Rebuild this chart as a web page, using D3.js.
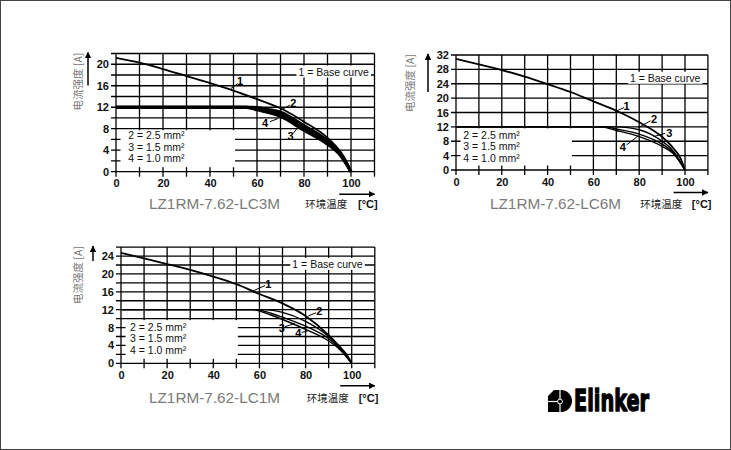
<!DOCTYPE html>
<html>
<head>
<meta charset="utf-8">
<script src="https://cdn.jsdelivr.net/npm/d3@7"></script>
<style>
  body { margin: 0; background: #fff; }
</style>
</head>
<body>
<svg id="chart" width="731" height="450"></svg>
<script>
// 공통 눈금/범례
var tempTicks = [0, 20, 40, 60, 80, 100];
var legendLines = ["2 = 2.5 mm²", "3 = 1.5 mm²", "4 = 1.0 mm²"];
var baseText = "1 = Base curve";

// LC3M (좌상단)
var lc3mTicks = [0, 4, 8, 12, 16, 20];
var lc3mBase = [[0,21.2],[10,20.3],[20,19.1],[30,17.8],[40,16.5],[50,15.1],[60,13.5],[70,11.8],[80,9.3],[90,6.3],[95,4.0],[98,2.0],[100,0]];
var lc3mC2 = [[0,12],[58,12],[65,11.6],[70,11.1],[80,8.6],[90,5.8],[95,3.8],[100,0]];
var lc3mC3 = [[0,12],[56,12],[62,11.4],[70,10.6],[80,8.1],[90,5.4],[95,3.5],[100,0]];
var lc3mC4 = [[0,12],[55,12],[60,11.5],[70,10.3],[80,7.7],[90,5.1],[95,3.3],[100,0]];
// 곡선 번호: [글자, x, y, 선 시작 x, y, 선 끝 x, y]
var lc3mLabels = [["1",52.8,16.9,48.9,15.5,51.8,16.4],["2",75.4,12.8,69.1,11.2,74.0,12.4],
                  ["4",63.4,9.0,65.5,9.3,69.0,9.9],["3",74.3,6.6,75.4,7.1,77.1,8.1]];

// LC6M (우상단)
var lc6mTicks = [0, 4, 8, 12, 16, 20, 24, 28, 32];
var lc6mBase = [[0,30.9],[10,29.4],[20,27.8],[30,26.0],[40,23.9],[50,21.7],[60,19.1],[70,16.5],[80,13.3],[90,9.2],[95,6.0],[98,3.3],[100,0]];
var lc6mC2 = [[0,12],[70,12],[75,11.8],[80,11.2],[85,10.0],[90,8.0],[95,5.2],[100,0]];
var lc6mC3 = [[0,12],[65,12],[70,11.4],[80,10.0],[90,7.2],[95,4.8],[100,0]];
var lc6mC4 = [[0,12],[63,12],[70,11.0],[80,9.3],[90,6.6],[95,4.5],[100,0]];
var lc6mLabels = [["1",74.5,17.9,69.4,16.2,73.4,17.4],["2",86.5,14.2,79.6,11.8,85.0,13.7],
                  ["3",93.1,10.4,86.2,9.3,91.3,10.2],["4",72.8,6.3,74.5,7.0,79.6,9.5]];

// LC1M (좌하단)
var lc1mTicks = [0, 4, 8, 12, 16, 20, 24];
var lc1mBase = [[0,24.7],[10,23.5],[20,22.2],[30,20.9],[40,19.4],[50,17.7],[60,15.5],[70,13.4],[80,10.6],[90,6.3],[95,3.6],[98,1.8],[100,0]];
var lc1mC2 = [[0,12],[62,12],[70,11.4],[80,9.4],[90,6.0],[95,3.4],[100,0]];
var lc1mC3 = [[0,12],[58,12],[65,11.2],[70,10.3],[80,8.3],[90,5.5],[95,3.2],[100,0]];
var lc1mC4 = [[0,12],[57,12],[65,10.8],[70,9.8],[80,7.6],[90,5.0],[95,3.0],[100,0]];
var lc1mLabels = [["1",63.8,17.7,57.3,16.2,62.4,17.4],["2",86.0,11.7,81.2,10.6,84.5,11.3],
                  ["3",69.7,7.8,71.1,8.2,75.4,8.9],["4",76.9,6.7,78.3,6.9,81.2,7.3]];

var charts = [
  { title: "LZ1RM-7.62-LC3M", ticks: lc3mTicks, yMax: 22, yStep: 2,
    curves: [lc3mC4, lc3mC3, lc3mC2], base: lc3mBase, labels: lc3mLabels,
    left: 116, right: 374.5, bottom: 171.7, top: 53.5, boxTop: 8,
    basePos: [92.6, 18.6], legendPos: [5.2, [6.8, 4.6, 2.6]],
    band: 3, titleDx: 33, titleDy: 37.5, yLabelDx: -38, arrowLen: 32 },
  { title: "LZ1RM-7.62-LC6M", ticks: lc6mTicks, yMax: 32, yStep: 4,
    curves: [lc6mC4, lc6mC3, lc6mC2], base: lc6mBase, labels: lc6mLabels,
    left: 456, right: 707.9, bottom: 170, top: 55, boxTop: 12,
    basePos: [91.3, 25.6], legendPos: [3.2, [9.7, 6.5, 3.3]],
    band: 1.4, titleDx: 34, titleDy: 39, yLabelDx: -46, arrowLen: 37 },
  { title: "LZ1RM-7.62-LC1M", ticks: lc1mTicks, yMax: 26, yStep: 2,
    curves: [lc1mC4, lc1mC3, lc1mC2], base: lc1mBase, labels: lc1mLabels,
    left: 121, right: 374.8, bottom: 363.3, top: 247.1, boxTop: 10,
    basePos: [89.5, 22.2], legendPos: [3.9, [8.0, 5.5, 3.0]],
    band: 1.4, titleDx: 28, titleDy: 40, yLabelDx: -43, arrowLen: 14 }
];

var svg = d3.select("#chart");
svg.append("rect").attr("x", 0.5).attr("y", 0.5).attr("width", 730).attr("height", 449)
  .attr("fill", "#fff").attr("stroke", "#444").attr("stroke-width", 1);

var defs = svg.append("defs");
defs.append("marker").attr("id", "head").attr("viewBox", "0 0 10 10")
  .attr("refX", 9).attr("refY", 5).attr("markerWidth", 4.4).attr("markerHeight", 4.4)
  .attr("orient", "auto-start-reverse")
  .append("path").attr("d", "M0,0 L10,5 L0,10 Z").attr("fill", "#000");

var sans = "'Liberation Sans', Arial, sans-serif";
var cjk = "'Noto Sans CJK SC', sans-serif";

charts.forEach(function(c) {
  var x = d3.scaleLinear().domain([0, 110]).range([c.left, c.right]);
  var y = d3.scaleLinear().domain([0, c.yMax]).range([c.bottom, c.top]);
  var g = svg.append("g");

  //격자
  var grid = g.append("g").attr("stroke", "#000").attr("stroke-width", 1.3);
  d3.range(0, c.yMax + 0.01, c.yStep).forEach(function(v) {
    grid.append("line").attr("x1", x(0) - 5).attr("x2", x(110))
      .attr("y1", y(v)).attr("y2", y(v));
  });
  d3.range(0, 110.01, 10).forEach(function(t) {
    grid.append("line").attr("x1", x(t)).attr("x2", x(t))
      .attr("y1", y(c.yMax)).attr("y2", y(0) + 5);
  });

  //범례 박스
  g.append("rect").attr("x", x(0) + 4.5).attr("y", y(c.boxTop) + 1.5)
    .attr("width", x(50) + 1.5 - (x(0) + 4.5))
    .attr("height", (y(0) - 4.5) - (y(c.boxTop) + 1.5))
    .attr("fill", "#fff");
  legendLines.forEach(function(s, i) {
    g.append("text").text(s).attr("x", x(c.legendPos[0])).attr("y", y(c.legendPos[1][i]))
      .attr("dy", "0.36em").attr("font-family", sans).attr("font-size", "10.5px").attr("fill", "#111");
  });

  //Base curve 표시
  var bt = g.append("text").text(baseText).attr("x", x(c.basePos[0])).attr("y", y(c.basePos[1]))
    .attr("dy", "0.36em").attr("text-anchor", "middle")
    .attr("font-family", sans).attr("font-size", "10.5px").attr("fill", "#111");
  var bb = bt.node().getBBox();
  g.insert("rect", "text").attr("x", bb.x - 2).attr("y", bb.y).attr("width", bb.width + 4)
    .attr("height", bb.height).attr("fill", "#fff");

  //곡선
  var line = d3.line().x(function(d) { return x(d[0]); }).y(function(d) { return y(d[1]); })
    .curve(d3.curveMonotoneX);
  c.curves.forEach(function(s) {
    g.append("path").datum(s).attr("d", line).attr("fill", "none")
      .attr("stroke", "#000").attr("stroke-width", c.band);
  });
  g.append("path").datum(c.base).attr("d", line).attr("fill", "none")
    .attr("stroke", "#000").attr("stroke-width", 1.8);

  //곡선 번호
  c.labels.forEach(function(l) {
    g.append("line").attr("x1", x(l[3])).attr("y1", y(l[4])).attr("x2", x(l[5])).attr("y2", y(l[6]))
      .attr("stroke", "#000").attr("stroke-width", 1);
    g.append("text").text(l[0]).attr("x", x(l[1])).attr("y", y(l[2])).attr("dy", "0.36em")
      .attr("text-anchor", "middle").attr("font-family", sans).attr("font-weight", "bold")
      .attr("font-size", "11px").attr("fill", "#000");
  });

  //축 눈금
  var yAxis = d3.axisLeft(y).tickValues(c.ticks).tickSize(0).tickPadding(7);
  var ya = g.append("g").attr("transform", "translate(" + x(0) + ",0)").call(yAxis);
  var xAxis = d3.axisBottom(x).tickValues(tempTicks).tickSize(0).tickPadding(8);
  var xa = g.append("g").attr("transform", "translate(0," + y(0) + ")").call(xAxis);
  [ya, xa].forEach(function(a) {
    a.select(".domain").remove();
    a.selectAll("text").attr("font-family", sans).attr("font-weight", "bold")
      .attr("font-size", "11px").attr("fill", "#111");
  });

  //축 화살표
  g.append("line").attr("x1", x(0) - 28).attr("x2", x(0) - 28)
    .attr("y1", y(c.yMax) + c.arrowLen).attr("y2", y(c.yMax) - 1)
    .attr("stroke", "#000").attr("stroke-width", 1.5).attr("marker-end", "url(#head)");
  g.append("line").attr("x1", x(95)).attr("x2", x(110)).attr("y1", y(0) + 22.5).attr("y2", y(0) + 22.5)
    .attr("stroke", "#000").attr("stroke-width", 1.5).attr("marker-end", "url(#head)");

  //축 제목
  g.append("text").text("电流强度 [A]")
    .attr("transform", "translate(" + (x(0) + c.yLabelDx) + "," + (y(c.yMax) + 28) + ") rotate(-90)")
    .attr("text-anchor", "middle").attr("dy", "0.36em")
    .attr("font-family", cjk).attr("font-size", "10.5px").attr("fill", "#777");
  g.append("text").text(c.title).attr("x", x(0) + c.titleDx).attr("y", y(0) + c.titleDy)
    .attr("textLength", 131).attr("lengthAdjust", "spacingAndGlyphs")
    .attr("font-family", sans).attr("font-size", "14.5px").attr("fill", "#7a7a7a");
  g.append("text").text("环境温度").attr("x", x(80.5)).attr("y", y(0) + c.titleDy - 1)
    .attr("font-family", cjk).attr("font-size", "10.5px").attr("fill", "#222");
  g.append("text").text("[°C]").attr("x", x(103)).attr("y", y(0) + c.titleDy - 1)
    .attr("font-family", sans).attr("font-weight", "bold").attr("font-size", "11px").attr("fill", "#111");
});

//로고
var logo = svg.append("g");
logo.append("path").attr("d", "M548,396 L554,390 L561,390 A11,11 0 0 1 561,412 L548,412 Z").attr("fill", "#000");
logo.append("line").attr("x1", 560).attr("x2", 560).attr("y1", 390).attr("y2", 412)
  .attr("stroke", "#fff").attr("stroke-width", 1.2);
logo.append("line").attr("x1", 548).attr("x2", 560).attr("y1", 401.5).attr("y2", 401.5)
  .attr("stroke", "#fff").attr("stroke-width", 1.2);
logo.append("circle").attr("cx", 560).attr("cy", 401.5).attr("r", 2.4)
  .attr("fill", "#000").attr("stroke", "#fff").attr("stroke-width", 1);
logo.append("text").text("Elinker").attr("x", 574).attr("y", 411.2)
  .attr("textLength", 75).attr("lengthAdjust", "spacingAndGlyphs")
  .attr("font-family", "'Liberation Sans Narrow', 'DejaVu Sans Condensed', sans-serif")
  .attr("font-weight", "bold").attr("font-size", "31px").attr("fill", "#000")
  .attr("stroke", "#000").attr("stroke-width", 1.4).attr("stroke-linejoin", "round");
</script>
</body>
</html>
